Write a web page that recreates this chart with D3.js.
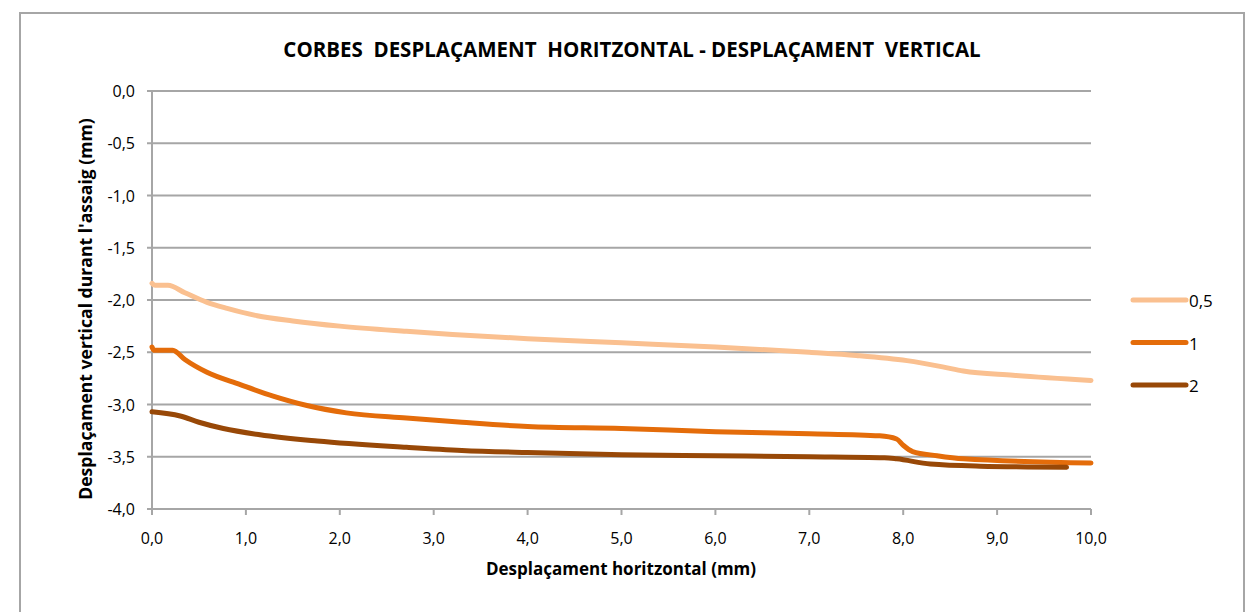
<!DOCTYPE html>
<html>
<head>
<meta charset="utf-8">
<script src="https://cdn.jsdelivr.net/npm/d3@7"></script>
<style>
  body { margin: 0; background: #fff; }
  text { font-family: "Open Sans", sans-serif; fill: #000; }
</style>
</head>
<body>
<svg width="1256" height="612"></svg>
<script>
const svg = d3.select("svg");

// series data: [horizontal mm, vertical mm]
const names = ["0,5", "1", "2"];
const colors = ["#fac090", "#e46c0a", "#984807"];
const s05 = [[0,-1.84],[0.03,-1.86],[0.17,-1.86],[0.35,-1.93],[0.58,-2.02],[0.8,-2.08],[1.12,-2.15],[1.5,-2.2],[2.0,-2.25],[2.71,-2.3],[3.2,-2.33],[4.0,-2.37],[5.0,-2.41],[6.0,-2.45],[7.0,-2.5],[7.5,-2.53],[8.04,-2.58],[8.42,-2.64],[8.64,-2.68],[9.17,-2.72],[10.0,-2.77]];
const s1 = [[0,-2.45],[0.02,-2.48],[0.22,-2.48],[0.35,-2.57],[0.58,-2.69],[0.94,-2.81],[1.29,-2.92],[1.65,-3.01],[2.07,-3.08],[2.71,-3.13],[3.3,-3.17],[4.0,-3.21],[5.0,-3.23],[6.0,-3.26],[7.0,-3.28],[7.75,-3.3],[7.93,-3.33],[8.0,-3.39],[8.1,-3.45],[8.36,-3.49],[8.64,-3.52],[10.0,-3.56]];
const s2 = [[0,-3.07],[0.3,-3.11],[0.5,-3.17],[0.76,-3.23],[1.15,-3.29],[1.76,-3.35],[2.71,-3.41],[3.3,-3.44],[4.0,-3.46],[5.0,-3.48],[6.0,-3.49],[7.0,-3.5],[7.8,-3.51],[7.93,-3.52],[8.29,-3.57],[8.82,-3.59],[9.74,-3.6]];
const series = [s05, s1, s2];

const xTicks = d3.range(0, 11, 1);
const yTicks = [0, -0.5, -1, -1.5, -2, -2.5, -3, -3.5, -4];
const fmt = d => d3.format(".1f")(d).replace(".", ",").replace("−", "-");

// frame
svg.append("rect").attr("x", 20).attr("y", 13).attr("width", 1224).attr("height", 640)
   .attr("fill", "none").attr("stroke", "#a6a6a6").attr("stroke-width", 2);

const x = d3.scaleLinear().domain([0, 10]).range([152, 1091]);
const y = d3.scaleLinear().domain([-4, 0]).range([509, 91]);

// grid
svg.append("g").selectAll("line").data(yTicks).join("line")
   .attr("x1", 147).attr("x2", 1091).attr("y1", d => y(d)).attr("y2", d => y(d))
   .attr("stroke", "#a6a6a6").attr("stroke-width", 2);

// y axis line
svg.append("line").attr("x1", 152).attr("x2", 152).attr("y1", 91).attr("y2", 509)
   .attr("stroke", "#a6a6a6").attr("stroke-width", 2);
// x ticks
svg.append("g").selectAll("line").data(xTicks).join("line")
   .attr("x1", d => x(d)).attr("x2", d => x(d)).attr("y1", 509).attr("y2", 515)
   .attr("stroke", "#a6a6a6").attr("stroke-width", 2);

// tick labels
svg.append("g").selectAll("text").data(yTicks).join("text")
   .attr("x", 135).attr("y", d => y(d) + 6).attr("text-anchor", "end")
   .style("font-size", "16px").text(fmt);
svg.append("g").selectAll("text").data(xTicks).join("text")
   .attr("x", d => x(d)).attr("y", 544).attr("text-anchor", "middle")
   .style("font-size", "16px").text(fmt);

// lines
const line = d3.line().x(d => x(d[0])).y(d => y(d[1])).curve(d3.curveMonotoneX);
svg.append("g").selectAll("path").data(series).join("path")
   .attr("d", line).attr("fill", "none")
   .attr("stroke", (d, i) => colors[i]).attr("stroke-width", 5)
   .attr("stroke-linecap", "round").attr("stroke-linejoin", "round");

// legend
const lg = svg.append("g").selectAll("g").data(names).join("g")
   .attr("transform", (d, i) => "translate(1133," + (300 + i * 42.5) + ")");
lg.append("line").attr("x1", 0).attr("x2", 53)
   .attr("stroke", (d, i) => colors[i]).attr("stroke-width", 5).attr("stroke-linecap", "round");
lg.append("text").attr("x", 56).attr("y", 7).style("font-size", "17px").text(d => d);

// titles
svg.append("text").attr("x", 632).attr("y", 57).attr("text-anchor", "middle")
   .style("font-size", "20.5px").style("font-weight", "bold").style("white-space", "pre")
   .text("CORBES  DESPLAÇAMENT  HORITZONTAL - DESPLAÇAMENT  VERTICAL");
svg.append("text").attr("x", 621).attr("y", 575).attr("text-anchor", "middle")
   .style("font-size", "17px").style("font-weight", "bold")
   .text("Desplaçament horitzontal (mm)");
svg.append("text").attr("transform", "translate(92,309) rotate(-90)").attr("text-anchor", "middle")
   .style("font-size", "17.6px").style("font-weight", "bold")
   .text("Desplaçament vertical durant l'assaig (mm)");
</script>
</body>
</html>
